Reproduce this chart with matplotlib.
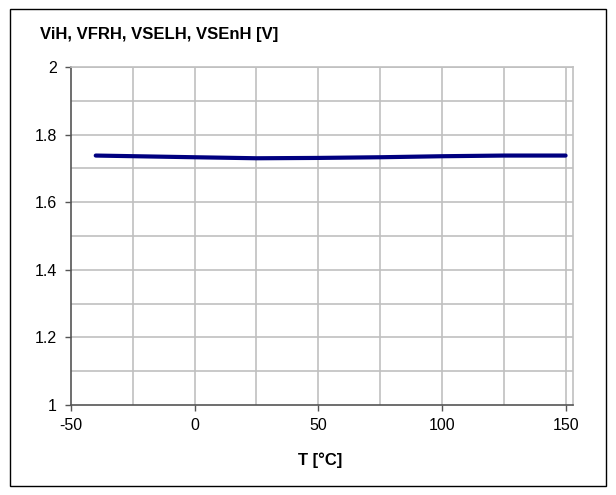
import matplotlib
matplotlib.use("Agg")
import matplotlib.pyplot as plt
from matplotlib.patches import Rectangle

plt.rcParams['font.family'] = ['Liberation Sans', 'DejaVu Sans']
plt.rcParams['axes.unicode_minus'] = False

# temperature [°C] and threshold voltage [V]
temp = [-40, 0, 25, 50, 75, 100, 125, 150]
volt = [1.738, 1.733, 1.730, 1.731, 1.733, 1.736, 1.738, 1.738]

x_ticks = [-50, 0, 50, 100, 150]
y_ticks = [1, 1.2, 1.4, 1.6, 1.8, 2]
y_labels = ['1', '1.2', '1.4', '1.6', '1.8', '2']

fig = plt.figure(figsize=(6.16, 4.95), dpi=100)
ax = fig.add_axes([71 / 616, 1 - 405 / 495, 502 / 616, 338 / 495])

# outer frame round the whole chart
fig.patches.append(Rectangle((10 / 616, 9 / 495), 596 / 616, 477 / 495,
                             transform=fig.transFigure, fill=False,
                             edgecolor='black', linewidth=1))

grid_col = '#c0c0c0'
for xv in range(-25, 151, 25):
    ax.axvline(xv, color=grid_col, linewidth=1.2, zorder=0)
for i in range(1, 11):
    ax.axhline(1 + i * 0.1, color=grid_col, linewidth=1.2, zorder=0)

ax.plot(temp, volt, color='#000080', linewidth=3, solid_capstyle='round', zorder=3)

ax.set_xlim(-50, 153)
ax.set_ylim(1, 2)
ax.set_xticks(x_ticks)
ax.set_yticks(y_ticks)
ax.set_yticklabels(y_labels)
ax.tick_params(axis='both', labelsize=11.5, length=4, width=1, color='#555555')
ax.tick_params(axis='y', pad=6)
ax.tick_params(axis='x', pad=5)

for side in ['left', 'bottom']:
    ax.spines[side].set_color('#555555')
    ax.spines[side].set_linewidth(1.2)
for side in ['right', 'top']:
    ax.spines[side].set_color(grid_col)
    ax.spines[side].set_linewidth(1.2)

fig.text(40 / 616, 1 - 34 / 495, 'ViH, VFRH, VSELH, VSEnH [V]', fontsize=12,
         fontweight='bold', va='center', ha='left')
fig.text(320 / 616, 1 - 460 / 495, 'T [°C]', fontsize=12,
         fontweight='bold', va='center', ha='center')

fig.savefig('out.png', dpi=100)
